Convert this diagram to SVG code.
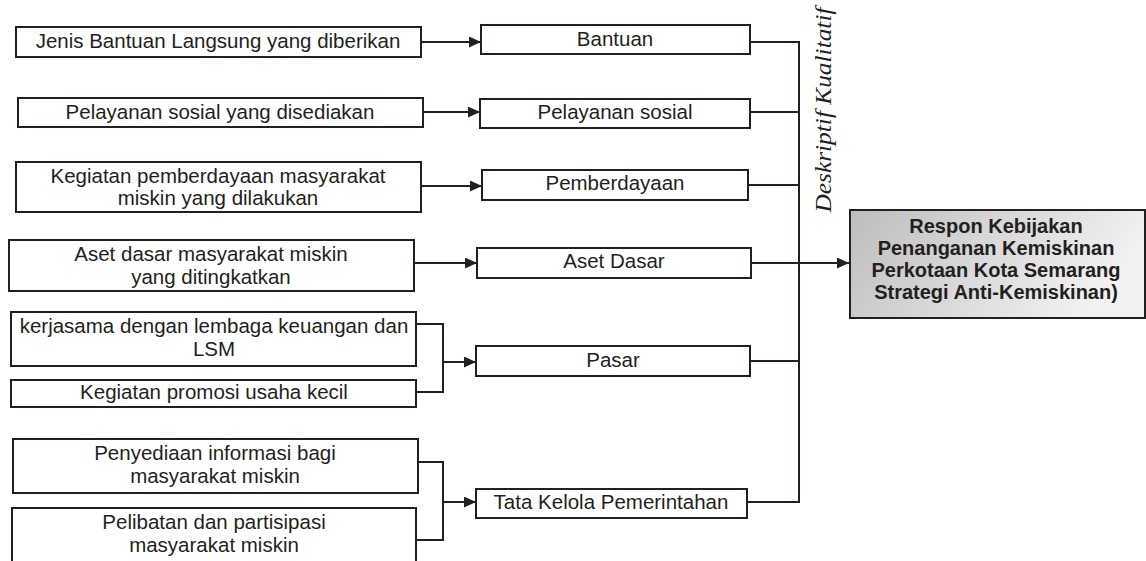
<svg xmlns="http://www.w3.org/2000/svg" width="1146" height="561" viewBox="0 0 1146 561">
<defs>
<marker id="arr" markerUnits="userSpaceOnUse" markerWidth="13" markerHeight="11" refX="12" refY="5.5" orient="auto">
<path d="M0,0 L12,5.5 L0,11 z" fill="#231f20"/>
</marker>
<linearGradient id="gr" x1="0" y1="0" x2="1" y2="0.3">
<stop offset="0" stop-color="#bdbdbd"/>
<stop offset="1" stop-color="#f2f2f2"/>
</linearGradient>
<style>
rect.b{fill:#fff;stroke:#231f20;stroke-width:2}
text{font-family:"Liberation Sans",Arial,sans-serif;font-size:20.5px;fill:#231f20;text-anchor:middle}
text.bold{font-weight:bold;font-size:20px}
text.it{font-family:"Liberation Serif","Times New Roman",serif;font-style:italic;font-size:23px}
.c{fill:none;stroke:#231f20;stroke-width:2}
</style>
</defs>
<rect width="1146" height="561" fill="#fff"/>

<g id="connectors">
<path class="c" d="M421,42 H481" marker-end="url(#arr)"/>
<path class="c" d="M423,112 H480" marker-end="url(#arr)"/>
<path class="c" d="M421,186 H482" marker-end="url(#arr)"/>
<path class="c" d="M414,263 H477" marker-end="url(#arr)"/>
<path class="c" d="M416,324 H443 V392 H416"/>
<path class="c" d="M443,362 H476" marker-end="url(#arr)"/>
<path class="c" d="M418,462 H443 V540 H416"/>
<path class="c" d="M443,502 H476" marker-end="url(#arr)"/>
<path class="c" d="M750,42 H799 V502 H747"/>
<path class="c" d="M750,112 H799"/>
<path class="c" d="M748,185 H799"/>
<path class="c" d="M750,361 H799"/>
<path class="c" d="M751,263 H849" marker-end="url(#arr)"/>
</g>

<g id="n1"><rect class="b" x="16" y="27" width="405" height="30"/><text x="218" y="48">Jenis Bantuan Langsung yang diberikan</text></g>
<g id="n2"><rect class="b" x="18" y="98" width="405" height="29"/><text x="220" y="119">Pelayanan sosial yang disediakan</text></g>
<g id="n3"><rect class="b" x="16" y="162" width="405" height="50"/><text x="218" y="183">Kegiatan pemberdayaan masyarakat</text><text x="218" y="205">miskin yang dilakukan</text></g>
<g id="n4"><rect class="b" x="9" y="240" width="405" height="51"/><text x="211" y="261">Aset dasar masyarakat miskin</text><text x="211" y="284">yang ditingkatkan</text></g>
<g id="n5"><rect class="b" x="11" y="312" width="405" height="54"/><text x="214" y="333">kerjasama dengan lembaga keuangan dan</text><text x="214" y="356">LSM</text></g>
<g id="n6"><rect class="b" x="11" y="380" width="405" height="27"/><text x="214" y="399">Kegiatan promosi usaha kecil</text></g>
<g id="n7"><rect class="b" x="13" y="439" width="405" height="54"/><text x="215" y="460">Penyediaan informasi bagi</text><text x="215" y="483">masyarakat miskin</text></g>
<g id="n8"><rect class="b" x="12" y="508" width="404" height="60"/><text x="214" y="529">Pelibatan dan partisipasi</text><text x="214" y="552">masyarakat miskin</text></g>

<g id="m1"><rect class="b" x="481" y="25" width="269" height="29"/><text x="615" y="46">Bantuan</text></g>
<g id="m2"><rect class="b" x="480" y="99" width="270" height="29"/><text x="615" y="119">Pelayanan sosial</text></g>
<g id="m3"><rect class="b" x="482" y="170" width="266" height="30"/><text x="615" y="190">Pemberdayaan</text></g>
<g id="m4"><rect class="b" x="477" y="248" width="274" height="30"/><text x="614" y="268">Aset Dasar</text></g>
<g id="m5"><rect class="b" x="476" y="346" width="274" height="30"/><text x="613" y="367">Pasar</text></g>
<g id="m6"><rect class="b" x="476" y="489" width="271" height="29"/><text x="611" y="509">Tata Kelola Pemerintahan</text></g>

<g id="label"><text class="it" transform="translate(831,110) rotate(-90)" textLength="205" lengthAdjust="spacingAndGlyphs">Deskriptif Kualitatif</text></g>

<g id="respon">
<rect x="850" y="210" width="295" height="108" fill="url(#gr)" stroke="#231f20" stroke-width="2"/>
<text class="bold" x="996" y="233">Respon Kebijakan</text>
<text class="bold" x="996" y="255">Penanganan Kemiskinan</text>
<text class="bold" x="996" y="277">Perkotaan Kota Semarang</text>
<text class="bold" x="996" y="299">Strategi Anti-Kemiskinan)</text>
</g>
</svg>
